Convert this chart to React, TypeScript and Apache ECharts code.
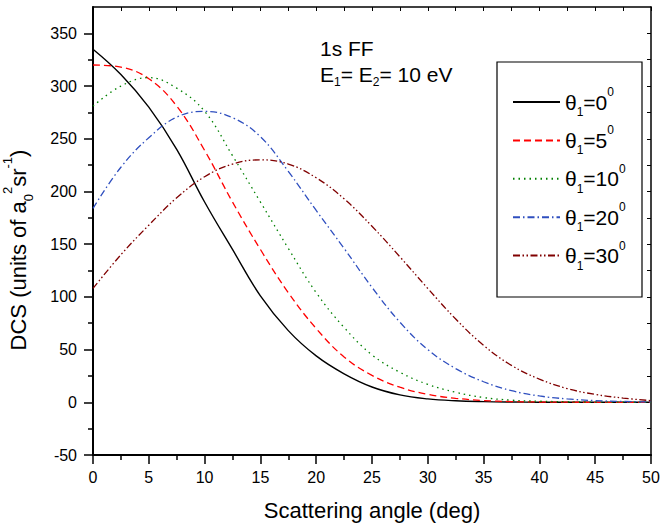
import React, { useEffect, useRef } from 'react';
import * as echarts from 'echarts';

// Scattering angle (deg)
const angles = [0, 2.5, 5, 7.5, 10, 12.5, 15, 17.5, 20, 22.5, 25, 27.5, 30, 32.5, 35, 37.5, 40, 42.5, 45, 47.5, 50];

// DCS (units of a0^2 sr^-1) for each theta1
const dcsTheta0 = [335, 311, 280, 240, 190, 145, 101, 68, 44, 27, 14.5, 7, 3.2, 1.4, 0.6, 0.25, 0.1, 0, 0, 0, 0];
const dcsTheta5 = [320, 318, 307, 281, 239, 190, 145, 104, 70, 43, 25.5, 14.3, 7.5, 3.8, 1.7, 0.7, 0.3, 0.1, 0, 0, 0];
const dcsTheta10 = [281, 300, 308, 298, 276, 234, 190, 146, 104, 71, 45, 28.5, 17, 9.5, 4.5, 2, 1, 0.5, 0.2, 0.1, 0];
const dcsTheta20 = [184, 223, 251, 270.5, 276, 270, 252, 219, 182, 146, 109, 76, 50, 32, 19.5, 11, 6, 3.2, 1.6, 0.8, 0.3];
const dcsTheta30 = [108, 140, 168, 194, 214, 226, 230, 226, 213, 193, 167, 138, 108, 79, 54, 35, 22, 13, 7.5, 4, 1.6];

const thetaValues = ['0', '5', '10', '20', '30'];
const seriesData = [dcsTheta0, dcsTheta5, dcsTheta10, dcsTheta20, dcsTheta30];
const seriesColors = ['#000000', '#ff0000', '#008000', '#2f4fbf', '#800000'];
const seriesDash: any[] = ['solid', [7, 4], [1.5, 4], [7, 3, 1.5, 3], [7, 2.5, 1.5, 2.5, 1.5, 2.5]];

const yTickValues = [-50, 0, 50, 100, 150, 200, 250, 300, 350];
const yMinorTickValues = [-25, 25, 75, 125, 175, 225, 275, 325];
const yAllTickValues = [-50, -25, 0, 25, 50, 75, 100, 125, 150, 175, 200, 225, 250, 275, 300, 325, 350];

const FONT = '"Liberation Sans", Arial, Helvetica, sans-serif';

const seriesName = (t: string) => 'θ1=' + t + '°';

export default function App() {
  const ref = useRef<HTMLDivElement>(null);

  useEffect(() => {
    if (!ref.current) return;
    const chart = echarts.init(ref.current, null, { renderer: 'svg' });

    const nameToTheta: Record<string, string> = {};
    thetaValues.forEach((t) => (nameToTheta[seriesName(t)] = t));

    const legendRich = {
      m: { fontSize: 21, fontFamily: FONT, color: '#000', lineHeight: 32 },
      s: { fontSize: 12, fontFamily: FONT, color: '#000', lineHeight: 12, verticalAlign: 'bottom' },
      p: { fontSize: 12, fontFamily: FONT, color: '#000', lineHeight: 12, verticalAlign: 'top' },
    };
    const noteRich = {
      m: { fontSize: 21, fontFamily: FONT, color: '#000', lineHeight: 26 },
      s: { fontSize: 12, fontFamily: FONT, color: '#000', lineHeight: 12, verticalAlign: 'bottom' },
    };
    const yTitleRich = {
      m: { fontSize: 22, fontFamily: FONT, color: '#000', lineHeight: 34 },
      s: { fontSize: 13, fontFamily: FONT, color: '#000', lineHeight: 13, verticalAlign: 'bottom' },
      p: { fontSize: 13, fontFamily: FONT, color: '#000', lineHeight: 24, verticalAlign: 'top' },
    };

    const option: any = {
      animation: false,
      backgroundColor: '#ffffff',
      grid: { left: 93, right: 10, top: 7, bottom: 73, containLabel: false, outerBoundsMode: 'none' },
      xAxis: [
        {
          type: 'value',
          position: 'bottom',
          min: 0,
          max: 50,
          interval: 5,
          name: 'Scattering angle (deg)',
          nameLocation: 'middle',
          nameGap: 44,
          nameTextStyle: { fontSize: 22, fontFamily: FONT, color: '#000' },
          axisLine: { show: true, onZero: false, lineStyle: { color: '#000', width: 2 } },
          axisTick: { show: true, inside: false, length: 9, lineStyle: { color: '#000', width: 1.5 } },
          minorTick: { show: true, splitNumber: 2, length: 5, lineStyle: { color: '#000', width: 1.5 } },
          axisLabel: { fontSize: 16, fontFamily: FONT, color: '#000', margin: 14 },
          splitLine: { show: false },
          minorSplitLine: { show: false },
        },
        {
          type: 'value',
          position: 'top',
          min: 0,
          max: 50,
          interval: 2.5,
          axisLine: { show: true, onZero: false, lineStyle: { color: '#000', width: 1.5 } },
          axisTick: { show: true, inside: true, length: 4, lineStyle: { color: '#000', width: 1 } },
          axisLabel: { show: false },
          splitLine: { show: false },
        },
      ],
      yAxis: [
        {
          type: 'value',
          position: 'left',
          min: -50,
          max: 375,
          interval: 50,
          axisLine: { show: true, onZero: false, lineStyle: { color: '#000', width: 2 } },
          axisTick: { show: true, inside: false, length: 9, customValues: yTickValues, lineStyle: { color: '#000', width: 1.5 } },
          axisLabel: { customValues: yTickValues, fontSize: 16, fontFamily: FONT, color: '#000', margin: 16 },
          splitLine: { show: false },
        },
        {
          type: 'value',
          position: 'left',
          min: -50,
          max: 375,
          interval: 25,
          axisLine: { show: false },
          axisTick: { show: true, inside: false, length: 5, customValues: yMinorTickValues, lineStyle: { color: '#000', width: 1.5 } },
          axisLabel: { show: false },
          splitLine: { show: false },
        },
        {
          type: 'value',
          position: 'right',
          min: -50,
          max: 375,
          interval: 25,
          axisLine: { show: true, onZero: false, lineStyle: { color: '#000', width: 1.5 } },
          axisTick: { show: true, inside: true, length: 4, customValues: yAllTickValues, lineStyle: { color: '#000', width: 1 } },
          axisLabel: { show: false },
          splitLine: { show: false },
        },
      ],
      legend: {
        show: true,
        orient: 'vertical',
        left: 512,
        top: 86,
        padding: 0,
        itemWidth: 47,
        itemHeight: 14,
        itemGap: 6.4,
        z: 10,
        data: thetaValues.map(seriesName),
        itemStyle: { opacity: 0, borderWidth: 0, color: 'rgba(0,0,0,0)' },
        formatter: (name: string) => {
          const t = nameToTheta[name];
          return '{m|θ}{s|1}{m|=' + t + '}{p|0}';
        },
        textStyle: { rich: legendRich },
      },
      graphic: [
        {
          type: 'rect',
          z: 5,
          shape: { x: 497, y: 62, width: 145, height: 235 },
          style: { fill: '#fff', stroke: '#000', lineWidth: 1.2 },
        },
        {
          type: 'text',
          z: 6,
          left: 320,
          top: 38,
          style: { text: '1s FF', font: '21px ' + FONT, fill: '#000' },
        },
        {
          type: 'text',
          z: 6,
          left: 320,
          top: 64,
          style: {
            text: '{m|E}{s|1}{m|= E}{s|2}{m|= 10 eV}',
            rich: noteRich,
          },
        },
        {
          type: 'text',
          z: 6,
          x: 18,
          y: 250,
          rotation: Math.PI / 2,
          style: {
            text: '{m|DCS (units of a}{s|0}{p|2}{m|sr}{p|-1}{m|)}',
            rich: yTitleRich,
            align: 'center',
            verticalAlign: 'middle',
          },
        },
      ],
      series: thetaValues.map((t, i) => ({
        name: seriesName(t),
        type: 'line',
        xAxisIndex: 0,
        yAxisIndex: 0,
        symbol: 'none',
        smooth: 0.4,
        data: angles.map((a, j) => [a, seriesData[i][j]]),
        lineStyle: { color: seriesColors[i], width: i === 0 ? 1.4 : 1.3, type: seriesDash[i] },
        itemStyle: { color: seriesColors[i] },
        z: 2,
      })),
    };

    chart.setOption(option);
    return () => chart.dispose();
  }, []);

  return <div ref={ref} style={{ position: 'absolute', left: 0, top: 0, width: 661, height: 528 }} />;
}
